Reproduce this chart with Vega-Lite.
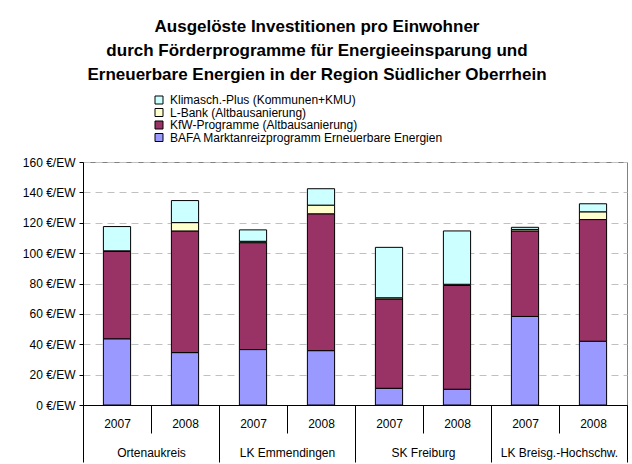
{
  "$schema": "https://vega.github.io/schema/vega-lite/v6.json",
  "width": 544,
  "height": 243,
  "autosize": {"type": "none"},
  "padding": {"left": 83, "top": 162, "right": 5, "bottom": 59},
  "background": "white",
  "config": {
    "font": "Liberation Sans",
    "view": {"stroke": "#808080", "strokeWidth": 1}
  },
  "title": {
    "text": [
      "Ausgelöste Investitionen pro Einwohner",
      "durch Förderprogramme für Energieeinsparung und",
      "Erneuerbare Energien in der Region Südlicher Oberrhein"
    ],
    "fontSize": 17,
    "fontWeight": "bold",
    "lineHeight": 24,
    "anchor": "middle",
    "frame": "group",
    "dx": -38,
    "offset": 10,
    "color": "black"
  },
  "data": {
    "values": [
      {"cat": "Ortenaukreis|2007", "series": "BAFA Marktanreizprogramm Erneuerbare Energien", "ord": 1, "value": 43.6},
      {"cat": "Ortenaukreis|2007", "series": "KfW-Programme (Altbausanierung)", "ord": 2, "value": 57.6},
      {"cat": "Ortenaukreis|2007", "series": "L-Bank (Altbausanierung)", "ord": 3, "value": 0.3},
      {"cat": "Ortenaukreis|2007", "series": "Klimasch.-Plus (Kommunen+KMU)", "ord": 4, "value": 16.0},
      {"cat": "Ortenaukreis|2008", "series": "BAFA Marktanreizprogramm Erneuerbare Energien", "ord": 1, "value": 34.5},
      {"cat": "Ortenaukreis|2008", "series": "KfW-Programme (Altbausanierung)", "ord": 2, "value": 80.1},
      {"cat": "Ortenaukreis|2008", "series": "L-Bank (Altbausanierung)", "ord": 3, "value": 5.5},
      {"cat": "Ortenaukreis|2008", "series": "Klimasch.-Plus (Kommunen+KMU)", "ord": 4, "value": 14.5},
      {"cat": "LK Emmendingen|2007", "series": "BAFA Marktanreizprogramm Erneuerbare Energien", "ord": 1, "value": 36.5},
      {"cat": "LK Emmendingen|2007", "series": "KfW-Programme (Altbausanierung)", "ord": 2, "value": 70.4},
      {"cat": "LK Emmendingen|2007", "series": "L-Bank (Altbausanierung)", "ord": 3, "value": 0.9},
      {"cat": "LK Emmendingen|2007", "series": "Klimasch.-Plus (Kommunen+KMU)", "ord": 4, "value": 7.5},
      {"cat": "LK Emmendingen|2008", "series": "BAFA Marktanreizprogramm Erneuerbare Energien", "ord": 1, "value": 35.8},
      {"cat": "LK Emmendingen|2008", "series": "KfW-Programme (Altbausanierung)", "ord": 2, "value": 90.1},
      {"cat": "LK Emmendingen|2008", "series": "L-Bank (Altbausanierung)", "ord": 3, "value": 5.7},
      {"cat": "LK Emmendingen|2008", "series": "Klimasch.-Plus (Kommunen+KMU)", "ord": 4, "value": 10.8},
      {"cat": "SK Freiburg|2007", "series": "BAFA Marktanreizprogramm Erneuerbare Energien", "ord": 1, "value": 11.0},
      {"cat": "SK Freiburg|2007", "series": "KfW-Programme (Altbausanierung)", "ord": 2, "value": 58.8},
      {"cat": "SK Freiburg|2007", "series": "L-Bank (Altbausanierung)", "ord": 3, "value": 0.8},
      {"cat": "SK Freiburg|2007", "series": "Klimasch.-Plus (Kommunen+KMU)", "ord": 4, "value": 33.2},
      {"cat": "SK Freiburg|2008", "series": "BAFA Marktanreizprogramm Erneuerbare Energien", "ord": 1, "value": 10.4},
      {"cat": "SK Freiburg|2008", "series": "KfW-Programme (Altbausanierung)", "ord": 2, "value": 68.3},
      {"cat": "SK Freiburg|2008", "series": "L-Bank (Altbausanierung)", "ord": 3, "value": 0.8},
      {"cat": "SK Freiburg|2008", "series": "Klimasch.-Plus (Kommunen+KMU)", "ord": 4, "value": 35.1},
      {"cat": "LK Breisg.-Hochschw.|2007", "series": "BAFA Marktanreizprogramm Erneuerbare Energien", "ord": 1, "value": 58.3},
      {"cat": "LK Breisg.-Hochschw.|2007", "series": "KfW-Programme (Altbausanierung)", "ord": 2, "value": 56.3},
      {"cat": "LK Breisg.-Hochschw.|2007", "series": "L-Bank (Altbausanierung)", "ord": 3, "value": 1.0},
      {"cat": "LK Breisg.-Hochschw.|2007", "series": "Klimasch.-Plus (Kommunen+KMU)", "ord": 4, "value": 1.4},
      {"cat": "LK Breisg.-Hochschw.|2008", "series": "BAFA Marktanreizprogramm Erneuerbare Energien", "ord": 1, "value": 42.0},
      {"cat": "LK Breisg.-Hochschw.|2008", "series": "KfW-Programme (Altbausanierung)", "ord": 2, "value": 80.1},
      {"cat": "LK Breisg.-Hochschw.|2008", "series": "L-Bank (Altbausanierung)", "ord": 3, "value": 5.1},
      {"cat": "LK Breisg.-Hochschw.|2008", "series": "Klimasch.-Plus (Kommunen+KMU)", "ord": 4, "value": 5.3}
    ]
  },
  "layer": [
    {
      "mark": {"type": "bar", "stroke": "black", "strokeWidth": 1, "width": {"band": 0.4}},
      "encoding": {
        "x": {
          "field": "cat",
          "type": "nominal",
          "sort": null,
          "scale": {"paddingInner": 0, "paddingOuter": 0},
          "axis": {
            "title": null,
            "orient": "bottom",
            "labelExpr": "split(datum.value, '|')[1]",
            "labelAngle": 0,
            "tickBand": "extent",
            "tickSize": 28,
            "labelPadding": -10,
            "labelBaseline": "middle",
            "domainColor": "black",
            "tickColor": "black",
            "labelFontSize": 12,
            "labelColor": "black"
          }
        },
        "y": {
          "field": "value",
          "type": "quantitative",
          "stack": "zero",
          "scale": {"domain": [0, 160]},
          "axis": {
            "title": null,
            "values": [0, 20, 40, 60, 80, 100, 120, 140, 160],
            "labelExpr": "datum.value + ' €/EW'",
            "labelOverlap": false,
            "grid": true,
            "gridDash": [7, 5],
            "gridColor": "#c0c0c0",
            "domainColor": "black",
            "tickColor": "black",
            "tickSize": 4,
            "labelPadding": 4,
            "labelFontSize": 12,
            "labelColor": "black"
          }
        },
        "color": {
          "field": "series",
          "type": "nominal",
          "scale": {
            "domain": [
              "Klimasch.-Plus (Kommunen+KMU)",
              "L-Bank (Altbausanierung)",
              "KfW-Programme (Altbausanierung)",
              "BAFA Marktanreizprogramm Erneuerbare Energien"
            ],
            "range": ["#CCFFFF", "#FFFFCC", "#993366", "#9999FF"]
          },
          "legend": {
            "orient": "none",
            "legendX": 70,
            "legendY": -68,
            "title": null,
            "symbolType": "square",
            "symbolSize": 64,
            "symbolStrokeColor": "black",
            "symbolStrokeWidth": 1,
            "symbolOpacity": 1,
            "labelFontSize": 12,
            "labelColor": "black",
            "labelLimit": 400,
            "labelOffset": 5,
            "rowPadding": 0.5,
            "padding": 0
          }
        },
        "order": {"field": "ord", "type": "quantitative"}
      }
    },
    {
      "data": {
        "values": [
          {"region": "Ortenaukreis"},
          {"region": "LK Emmendingen"},
          {"region": "SK Freiburg"},
          {"region": "LK Breisg.-Hochschw."}
        ]
      },
      "mark": {"type": "point", "opacity": 0},
      "encoding": {
        "x": {
          "field": "region",
          "type": "nominal",
          "sort": null,
          "scale": {"type": "band", "paddingInner": 0, "paddingOuter": 0},
          "axis": {
            "title": null,
            "orient": "bottom",
            "labelAngle": 0,
            "tickBand": "extent",
            "tickSize": 57,
            "labelPadding": -10,
            "labelBaseline": "middle",
            "domain": false,
            "tickColor": "black",
            "labelFontSize": 12,
            "labelColor": "black"
          }
        }
      }
    }
  ],
  "resolve": {"scale": {"x": "independent"}, "axis": {"x": "independent"}}
}
